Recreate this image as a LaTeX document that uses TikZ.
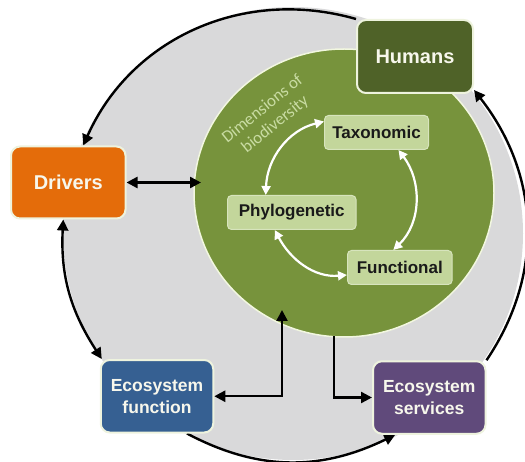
\documentclass[tikz,border=0pt]{standalone}
\usepackage{fontspec}
\setmainfont{Liberation Sans}
\newfontfamily\labelfont{Carlito}
\usetikzlibrary{arrows.meta,shapes.geometric}

\definecolor{ringgray}{HTML}{D9D9DA}
\definecolor{biogreen}{HTML}{77933C}
\definecolor{bioedge}{HTML}{F2F7E0}
\definecolor{humfill}{HTML}{4F6228}
\definecolor{drvfill}{HTML}{E46C0A}
\definecolor{effill}{HTML}{366092}
\definecolor{esfill}{HTML}{604A7B}
\definecolor{boxedge}{HTML}{EEF3DE}
\definecolor{boxtext}{HTML}{F7F7EC}
\definecolor{dimfill}{HTML}{C3D69B}
\definecolor{dimedge}{HTML}{D7E4BD}
\definecolor{dimtext}{HTML}{1A1A1A}
\definecolor{dimlabel}{HTML}{C9DCA3}

\pgfdeclarelayer{bg}
\pgfdeclarelayer{links}
\pgfsetlayers{bg,links,main}

\begin{document}
\begin{tikzpicture}[x=1pt,y=1pt,
  bigbox/.style={draw=boxedge, line width=2pt, rounded corners=9pt, inner sep=0pt,
    align=center, text=boxtext, font=\fontsize{20}{22}\selectfont\bfseries},
  ecobox/.style={bigbox, minimum width=112.5pt, minimum height=72.5pt,
    font=\fontsize{17.5}{22}\selectfont\bfseries},
  dimbox/.style={fill=dimfill, draw=dimedge, line width=1pt, rounded corners=4pt,
    inner sep=0pt, minimum height=34pt, text=dimtext,
    font=\fontsize{17}{19}\selectfont\bfseries},
  link/.style={black, line width=2.4pt,
    >={Triangle[length=11pt,width=11pt]}},
  wlink/.style={white, line width=2.2pt,
    {Triangle[length=9pt,width=9pt]}-{Triangle[length=9pt,width=9pt]}}
]
\useasboundingbox (0,0) rectangle (525,461);

% outer ring and the biodiversity disc
\begin{pgfonlayer}{bg}
  \node[ellipse, fill=ringgray, inner sep=0pt, minimum width=460pt,
        minimum height=453pt] (ring) at (293,227.5) {};
  \node[ellipse, fill=biogreen, draw=bioedge, line width=1.5pt, inner sep=0pt,
        minimum width=300pt, minimum height=288pt] (bio) at (344,268) {};
\end{pgfonlayer}

% main boxes
\node[bigbox, fill=humfill, minimum width=116pt, minimum height=73pt] (hum) at (415,404.5) {Humans};
\node[bigbox, fill=drvfill, minimum width=114.5pt, minimum height=72pt] (drv) at (68.25,278.5) {Drivers};
\node[ecobox, fill=effill] (ef) at (157,64.75) {Ecosystem\\function};
\node[ecobox, fill=esfill] (es) at (429.25,63.5) {Ecosystem\\services};

% dimensions of biodiversity
\node[dimbox, minimum width=104pt] (tax) at (376.5,328.5) {Taxonomic};
\node[dimbox, minimum width=128.5pt] (phy) at (291.75,248.5) {Phylogenetic};
\node[dimbox, minimum width=104.6pt] (fun) at (399.8,193.5) {Functional};

\node[rotate=39, align=center, text=dimlabel, inner sep=0pt,
      font=\labelfont\fontsize{17}{20}\selectfont] (dimlbl) at (269,344)
      {Dimensions of\\biodiversity};

% end points on the disc
\coordinate (bioL) at (201,278.5);
\coordinate (bioIn) at (282,151);
\coordinate (bioOut) at (334,125);

\begin{pgfonlayer}{links}
  % cycle around the ring
  \draw[link, ->] (hum.north west) to[out=164,in=66] ([xshift=15pt]drv.north);
  \draw[link, <->] ([xshift=-5pt]drv.south) to[out=267,in=123] ([xshift=2pt]ef.north west);
  \draw[link, ->] ([xshift=30pt]ef.south) to[out=332,in=206] ([xshift=-34pt]es.south);
  \draw[link, ->] (es.north east) to[out=56,in=308] ([yshift=4pt]hum.south east);
  % links with the disc
  \draw[link, <->] (drv.east) -- (bioL);
  \draw[link, <->] (ef.east) -| (bioIn);
  \draw[link, ->] (bioOut) |- (es.west);
  % links between the dimensions
  \draw[wlink] ([yshift=11pt]tax.west) to[out=193.5,in=88] ([xshift=-26pt]phy.north);
  \draw[wlink] ([xshift=-17pt]phy.south) to[out=298,in=185] ([yshift=-7.5pt]fun.west);
  \draw[wlink] ([xshift=-6.5pt]fun.north) to[out=44,in=307] ([xshift=22pt]tax.south);
\end{pgfonlayer}
\end{tikzpicture}
\end{document}
